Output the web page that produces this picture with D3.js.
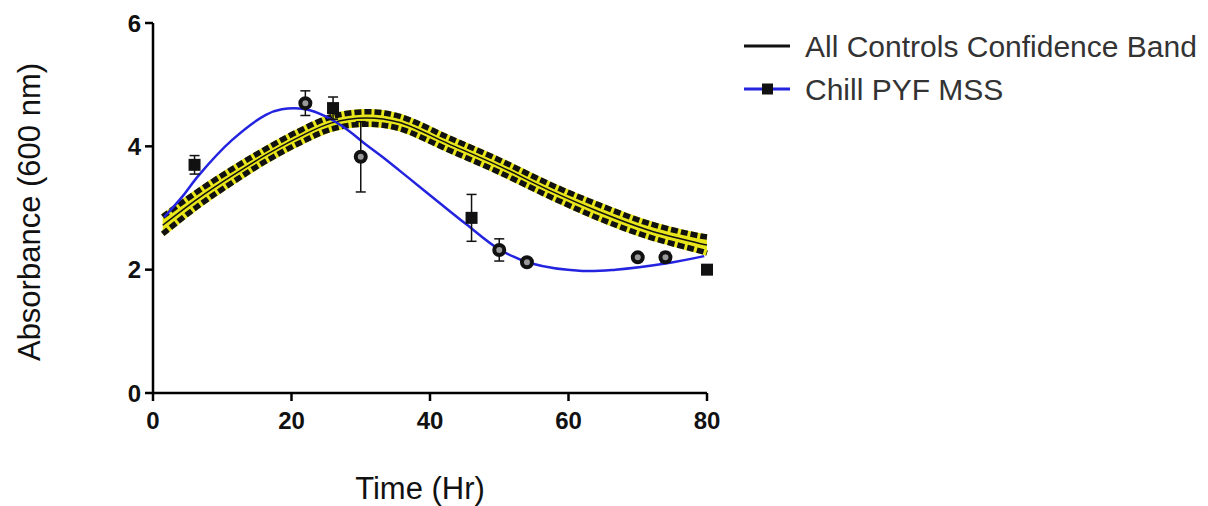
<!DOCTYPE html>
<html>
<head>
<meta charset="utf-8">
<script src="https://cdn.jsdelivr.net/npm/d3@7"></script>
<style>
body { margin: 0; background: #fff; }
svg { display: block; }
text { font-family: Arial, "Liberation Sans", sans-serif; }
</style>
</head>
<body>
<svg id="chart" width="1208" height="506"></svg>
<script>
// Chill PYF MSS measurements (mean, SEM)
var timeHr = [6, 22, 26, 30, 46, 50, 54, 70, 74, 80];
var absorb = [3.7, 4.7, 4.62, 3.83, 2.84, 2.32, 2.12, 2.2, 2.2, 2.0];
var sem = [0.15, 0.2, 0.18, 0.57, 0.38, 0.18, 0.06, 0.05, 0.08, 0.06];
var markerShape = ['square', 'circle', 'square', 'circle', 'square', 'circle', 'circle', 'circle', 'circle', 'square'];

// Chill PYF MSS fitted curve
var fitX = [1.6, 4.2, 6.6, 11.4, 16.3, 18.6, 22, 25, 28.3, 30.5, 33.1, 37, 41.3, 45.2, 50, 54.7, 62, 66.8, 74, 79.6];
var fitY = [2.85, 3.18, 3.53, 4.1, 4.51, 4.6, 4.6, 4.48, 4.25, 4.05, 3.83, 3.48, 3.09, 2.74, 2.33, 2.1, 1.98, 2.0, 2.1, 2.22];

// All controls fit with confidence band
var bandX = [1.4, 6.6, 11.4, 16.3, 21.1, 25.8, 30.8, 35.5, 42.7, 50, 57.2, 64.4, 71.6, 78.8, 80];
var bandMid = [2.72, 3.16, 3.52, 3.86, 4.15, 4.38, 4.46, 4.39, 4.04, 3.68, 3.29, 2.94, 2.64, 2.43, 2.40];
var bandHi = [2.86, 3.28, 3.63, 3.96, 4.25, 4.48, 4.56, 4.49, 4.14, 3.78, 3.39, 3.05, 2.75, 2.55, 2.53];
var bandLo = [2.58, 3.04, 3.41, 3.76, 4.05, 4.28, 4.36, 4.29, 3.94, 3.58, 3.19, 2.83, 2.53, 2.31, 2.27];

var xTicks = [0, 20, 40, 60, 80];
var yTicks = [0, 2, 4, 6];
var legendLabels = ['All Controls Confidence Band', 'Chill PYF MSS'];

var svg = d3.select('#chart');
var x = d3.scaleLinear().domain([0, 80]).range([153, 707]);
var y = d3.scaleLinear().domain([0, 6]).range([393, 23]);
var curve = d3.curveCatmullRom.alpha(0.5);

/* confidence band */
var band = bandX.map(function(v, i) {
	return { x: v, mid: bandMid[i], hi: bandHi[i], lo: bandLo[i] };
});

svg.append('path')
	.datum(band)
	.attr('fill', '#e8e61a')
	.attr('d', d3.area()
		.x(function(d) { return x(d.x); })
		.y0(function(d) { return y(d.lo); })
		.y1(function(d) { return y(d.hi); })
		.curve(curve));

['hi', 'lo'].forEach(function(k) {
	var gen = d3.line()
		.x(function(d) { return x(d.x); })
		.y(function(d) { return y(d[k]); })
		.curve(curve);
	svg.append('path')
		.datum(band)
		.attr('fill', 'none')
		.attr('stroke', '#e8e61a')
		.attr('stroke-width', 5.5)
		.attr('d', gen);
	svg.append('path')
		.datum(band)
		.attr('fill', 'none')
		.attr('stroke', '#111')
		.attr('stroke-width', 5.5)
		.attr('stroke-dasharray', '7,3')
		.attr('d', gen);
});

svg.append('path')
	.datum(band)
	.attr('fill', 'none')
	.attr('stroke', '#111')
	.attr('stroke-width', 1.5)
	.attr('d', d3.line()
		.x(function(d) { return x(d.x); })
		.y(function(d) { return y(d.mid); })
		.curve(curve));

/* fitted curve */
svg.append('path')
	.datum(fitX.map(function(v, i) { return [v, fitY[i]]; }))
	.attr('fill', 'none')
	.attr('stroke', '#2323e0')
	.attr('stroke-width', 2.5)
	.attr('d', d3.line()
		.x(function(d) { return x(d[0]); })
		.y(function(d) { return y(d[1]); })
		.curve(curve));

/* data points with error bars */
var pts = timeHr.map(function(t, i) {
	return { t: t, v: absorb[i], e: sem[i], shape: markerShape[i] };
});

var pg = svg.append('g').selectAll('g')
	.data(pts)
	.enter().append('g')
	.attr('transform', function(d) { return 'translate(' + x(d.t) + ',0)'; });

pg.append('line')
	.attr('y1', function(d) { return y(d.v - d.e); })
	.attr('y2', function(d) { return y(d.v + d.e); })
	.attr('stroke', '#111')
	.attr('stroke-width', 1.5);
[-1, 1].forEach(function(s) {
	pg.append('line')
		.attr('x1', -5).attr('x2', 5)
		.attr('y1', function(d) { return y(d.v + s * d.e); })
		.attr('y2', function(d) { return y(d.v + s * d.e); })
		.attr('stroke', '#111')
		.attr('stroke-width', 1.5);
});

pg.filter(function(d) { return d.shape === 'square'; })
	.append('rect')
	.attr('x', -6).attr('width', 12).attr('height', 12)
	.attr('y', function(d) { return y(d.v) - 6; })
	.attr('fill', '#111');
pg.filter(function(d) { return d.shape === 'circle'; })
	.append('circle')
	.attr('r', 5)
	.attr('cy', function(d) { return y(d.v); })
	.attr('fill', '#999')
	.attr('stroke', '#111')
	.attr('stroke-width', 4);

/* axes */
var ax = svg.append('g').attr('stroke', '#000').attr('stroke-width', 2.5);
ax.append('line').attr('x1', x(0)).attr('x2', x(0)).attr('y1', y(6)).attr('y2', y(0));
ax.append('line').attr('x1', x(0)).attr('x2', x(80)).attr('y1', y(0)).attr('y2', y(0));
ax.selectAll('.yt').data(yTicks).enter().append('line')
	.attr('x1', x(0) - 8).attr('x2', x(0))
	.attr('y1', function(d) { return y(d); })
	.attr('y2', function(d) { return y(d); });
ax.selectAll('.xt').data(xTicks).enter().append('line')
	.attr('x1', function(d) { return x(d); })
	.attr('x2', function(d) { return x(d); })
	.attr('y1', y(0)).attr('y2', y(0) + 8);

svg.selectAll('.ylab').data(yTicks).enter().append('text')
	.attr('x', x(0) - 12)
	.attr('y', function(d) { return y(d); })
	.attr('dy', '0.36em')
	.attr('text-anchor', 'end')
	.attr('font-size', 24)
	.attr('font-weight', 'bold')
	.attr('fill', '#111')
	.text(function(d) { return d; });

svg.selectAll('.xlab').data(xTicks).enter().append('text')
	.attr('x', function(d) { return x(d); })
	.attr('y', 429)
	.attr('text-anchor', 'middle')
	.attr('font-size', 24)
	.attr('font-weight', 'bold')
	.attr('fill', '#111')
	.text(function(d) { return d; });

svg.append('text')
	.attr('transform', 'translate(40,212) rotate(-90)')
	.attr('text-anchor', 'middle')
	.attr('font-size', 31)
	.attr('fill', '#111')
	.text('Absorbance (600 nm)');

svg.append('text')
	.attr('x', 420)
	.attr('y', 499)
	.attr('text-anchor', 'middle')
	.attr('font-size', 31)
	.attr('fill', '#111')
	.text('Time (Hr)');

/* legend */
var lg = svg.append('g').selectAll('g')
	.data(legendLabels)
	.enter().append('g')
	.attr('transform', function(d, i) { return 'translate(0,' + (46 + i * 43) + ')'; });
lg.append('line')
	.attr('x1', 744).attr('x2', 790)
	.attr('stroke', function(d, i) { return i === 0 ? '#111' : '#2323e0'; })
	.attr('stroke-width', 3);
lg.filter(function(d, i) { return i === 1; })
	.append('rect')
	.attr('x', 762).attr('y', -5.5).attr('width', 11).attr('height', 11)
	.attr('fill', '#111');
lg.append('text')
	.attr('x', 805)
	.attr('dy', '0.36em')
	.attr('font-size', 30)
	.attr('fill', '#333')
	.text(function(d) { return d; });
</script>
</body>
</html>
